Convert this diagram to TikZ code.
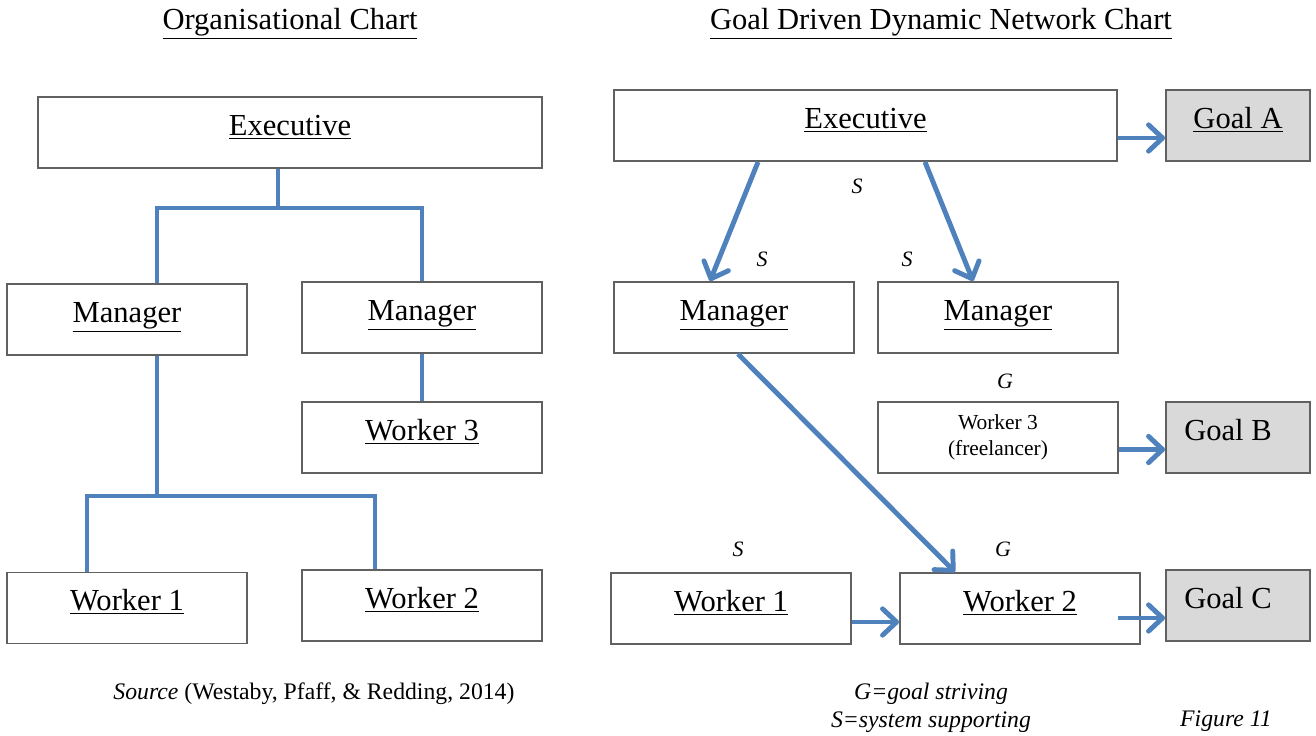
\documentclass[tikz,border=0pt]{standalone}
\usepackage{fontspec}
\setmainfont{Liberation Serif}
\usetikzlibrary{arrows.meta}

\definecolor{linkblue}{HTML}{4F81BD}
\definecolor{goalgray}{HTML}{D9D9D9}

\tikzset{
  box/.style={draw=black!62, line width=1.1pt, inner sep=0pt, minimum height=1.42cm,
    font=\fontsize{17.4}{20}\selectfont, text height=12pt, text depth=9pt},
  wide/.style={box, minimum width=10.08cm},
  unit/.style={box, minimum width=4.8cm},
  goal/.style={box, minimum width=2.88cm, fill=goalgray},
  tie/.style={draw=linkblue, line width=2.8pt},
  arr/.style={tie, -{Straight Barb[length=8pt,width=15pt,round]}},
  tag/.style={inner sep=0pt, font=\fontsize{12.5}{14}\selectfont\itshape},
  note/.style={inner sep=0pt, font=\fontsize{13.5}{15.9}\selectfont},
  title/.style={inner sep=0pt, font=\fontsize{17.4}{20}\selectfont}
}

\begin{document}
\begin{tikzpicture}[x=0.02cm,y=-0.02cm]
        \useasboundingbox (0,0) rectangle (1316,735);

        % titles
        \node[title] (t1) at (290,24) {\underline{Organisational Chart}};
        \node[title] (t2) at (941,24) {\underline{Goal Driven Dynamic Network Chart}};

        % organisational chart
        \node[wide] (1) at (290,132.5) {\underline{Executive}};
        \node[unit] (2) at (127,319.5) {\underline{Manager}};
        \node[unit] (3) at (422,317.5) {\underline{Manager}};
        \node[unit] (4) at (422,437.5) {\underline{Worker 3}};
        \node[unit] (5) at (127,608)   {\underline{Worker 1}};
        \node[unit] (6) at (422,605.5) {\underline{Worker 2}};

        \coordinate (j1) at (278,208);
        \coordinate (j2) at (157,208);
        \coordinate (j3) at (422,208);
        \coordinate (j4) at (157,496);
        \coordinate (j5) at (87,496);
        \coordinate (j6) at (375,496);

        \draw[tie] (j1 |- 1.south) -- (j1);
        \draw[tie] (j2 |- 2.north) -- (j2) -- (j3) -- (j3 |- 3.north);
        \draw[tie] (3.south) -- (4.north);
        \draw[tie] (j4 |- 2.south) -- (j4);
        \draw[tie] (j5 |- 5.north) -- (j5) -- (j6) -- (j6 |- 6.north);

        % goal driven network
        \node[wide] (7)  at (865.5,125.5) {\underline{Executive}};
        \node[goal] (8)  at (1238,125.5)  {\underline{Goal A}};
        \node[unit] (9)  at (734,317.5)   {\underline{Manager}};
        \node[unit] (10) at (998,317.5)   {\underline{Manager}};
        \node[unit, font=\fontsize{12.2}{14.5}\selectfont, align=center, text height=, text depth=]
                    (11) at (998,437.5)   {Worker 3\\(freelancer)};
        \node[goal] (12) at (1238,437.5)  {Goal B\hspace*{0.4cm}};
        \node[unit] (13) at (731,608.5)   {\underline{Worker 1}};
        \node[unit] (14) at (1020,608.5)  {\underline{Worker 2}};
        \node[goal] (15) at (1238,605.5)  {Goal C\hspace*{0.4cm}};

        \coordinate (c1) at (1118,618);

        \draw[arr] ([yshift=-0.25cm]7.east) -- ([yshift=-0.25cm]8.west);
        \draw[arr] ([xshift=-2.15cm]7.south) -- ([xshift=-0.48cm]9.north);
        \draw[arr] ([xshift=1.19cm]7.south) -- ([xshift=-0.5cm]10.north);
        \draw[arr] ([xshift=0.08cm]9.south) -- ([xshift=-1.3cm]14.north);
        \draw[arr] ([yshift=-0.24cm]11.east) -- ([yshift=-0.24cm]12.west);
        \draw[arr] ([yshift=-0.27cm]13.east) -- ([yshift=-0.27cm]14.west);
        \draw[arr] (c1) -- (c1 -| 15.west);

        \node[tag] (s1) at (857,186)  {S};
        \node[tag] (s2) at (762,259)  {S};
        \node[tag] (s3) at (907,259)  {S};
        \node[tag] (g1) at (1005,381) {G};
        \node[tag] (s4) at (738,549)  {S};
        \node[tag] (g2) at (1003,549) {G};

        % notes
        \node[note] (src) at (314,694) {\textit{Source} (Westaby, Pfaff, \& Redding, 2014)};
        \node[note, align=center, font=\fontsize{13.5}{15.9}\selectfont\itshape]
              (key) at (931,708) {G=goal striving\\S=system supporting};
        \node[note, font=\fontsize{13.5}{15.9}\selectfont\itshape] (fig) at (1226,721) {Figure 11};

      \end{tikzpicture}
\end{document}
